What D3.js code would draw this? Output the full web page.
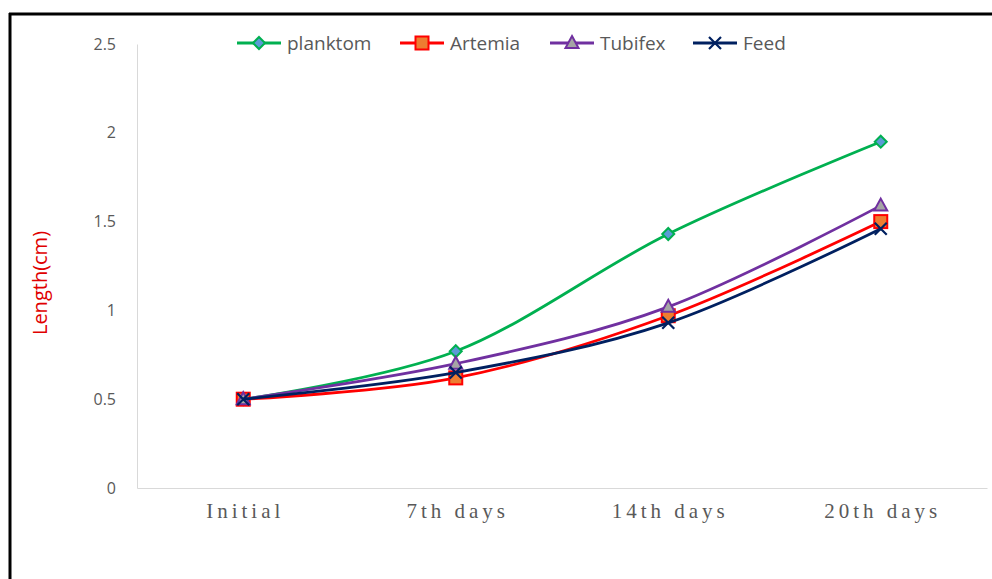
<!DOCTYPE html>
<html>
<head>
<meta charset="utf-8">
<script src="https://cdn.jsdelivr.net/npm/d3@7"></script>
<style>
  html, body { margin: 0; padding: 0; background: #fff; }
  svg { display: block; }
</style>
</head>
<body>
<svg id="chart" width="992" height="579"></svg>
<script>
// Fish larvae length by feeding treatment
const categories = ["Initial", "7th days", "14th days", "20th days"];
const seriesNames = ["planktom", "Artemia", "Tubifex", "Feed"];
const planktom = [0.5, 0.77, 1.43, 1.95];
const artemia  = [0.5, 0.62, 0.97, 1.50];
const tubifex  = [0.5, 0.70, 1.02, 1.59];
const feed     = [0.5, 0.65, 0.93, 1.46];
const yTicks = [0, 0.5, 1, 1.5, 2, 2.5];

const series = [
  { name: seriesNames[0], values: planktom, line: "#00B050", fill: "#5B9BD5", stroke: "#00B050", shape: "diamond" },
  { name: seriesNames[1], values: artemia,  line: "#FF0000", fill: "#ED7D31", stroke: "#FF0000", shape: "square" },
  { name: seriesNames[2], values: tubifex,  line: "#7030A0", fill: "#A5A5A5", stroke: "#7030A0", shape: "triangle" },
  { name: seriesNames[3], values: feed,     line: "#002060", fill: "none",    stroke: "#002060", shape: "x" }
];

const svg = d3.select("#chart");

// frame lines (top and left)
svg.append("line").attr("x1", 9).attr("x2", 992).attr("y1", 14).attr("y2", 14)
  .attr("stroke", "#000").attr("stroke-width", 3);
svg.append("line").attr("x1", 10).attr("x2", 10).attr("y1", 13).attr("y2", 579)
  .attr("stroke", "#000").attr("stroke-width", 3);

const plotLeft = 137, plotRight = 987, plotTop = 44, plotBottom = 488;

const x = d3.scaleBand().domain(categories).range([plotLeft, plotRight]);
const y = d3.scaleLinear().domain([0, 2.5]).range([plotBottom, plotTop]);

// axes
const yAxis = svg.append("g").attr("transform", `translate(${plotLeft},0)`)
  .call(d3.axisLeft(y).tickValues(yTicks).tickSize(0).tickPadding(21).tickFormat(d3.format("")));
yAxis.select(".domain").attr("stroke", "#D9D9D9");
yAxis.selectAll("text").attr("fill", "#595959")
  .style("font-family", "'Open Sans', 'Liberation Sans', sans-serif").style("font-size", "16px");

const xAxis = svg.append("g").attr("transform", `translate(0,${plotBottom})`)
  .call(d3.axisBottom(x).tickSize(0).tickPadding(15));
xAxis.select(".domain").attr("stroke", "#D9D9D9");
xAxis.selectAll("text").attr("fill", "#595959")
  .attr("dx", 2)
  .style("font-family", "'Liberation Serif', 'DejaVu Serif', serif")
  .style("font-size", "21px").style("letter-spacing", "4px");

// y axis title
svg.append("text")
  .attr("transform", `translate(47,${(plotTop + plotBottom) / 2 + 17}) rotate(-90)`)
  .attr("text-anchor", "middle")
  .attr("fill", "#E00000")
  .style("font-family", "'Open Sans', 'Liberation Sans', sans-serif")
  .style("font-size", "20px")
  .text("Length(cm)");

const line = d3.line()
  .x((d, i) => x(categories[i]) + x.bandwidth() / 2)
  .y(d => y(d))
  .curve(d3.curveCatmullRom.alpha(0));

function drawMarker(g, shape, cx, cy, s) {
  if (shape === "diamond") {
    g.append("path").attr("d", `M${cx},${cy - 6}L${cx + 6},${cy}L${cx},${cy + 6}L${cx - 6},${cy}Z`)
      .attr("fill", s.fill).attr("stroke", s.stroke).attr("stroke-width", 2);
  } else if (shape === "square") {
    g.append("rect").attr("x", cx - 6.5).attr("y", cy - 6.5).attr("width", 13).attr("height", 13)
      .attr("fill", s.fill).attr("stroke", s.stroke).attr("stroke-width", 2);
  } else if (shape === "triangle") {
    g.append("path").attr("d", `M${cx},${cy - 7}L${cx + 6.5},${cy + 5}L${cx - 6.5},${cy + 5}Z`)
      .attr("fill", s.fill).attr("stroke", s.stroke).attr("stroke-width", 2);
  } else {
    g.append("path").attr("d", `M${cx - 6},${cy - 6}L${cx + 6},${cy + 6}M${cx + 6},${cy - 6}L${cx - 6},${cy + 6}`)
      .attr("fill", "none").attr("stroke", s.stroke).attr("stroke-width", 2.2);
  }
}

// each series: line then its markers, later series on top
const plot = svg.append("g");
series.forEach(s => {
  const g = plot.append("g");
  g.append("path").datum(s.values).attr("d", line)
    .attr("fill", "none").attr("stroke", s.line).attr("stroke-width", 2.8)
    .attr("stroke-linecap", "round");
  s.values.forEach((v, i) => drawMarker(g, s.shape, x(categories[i]) + x.bandwidth() / 2, y(v), s));
});

// legend
const legendX = [237, 400, 550, 693];
const legend = svg.append("g");
series.forEach((s, i) => {
  const lx = legendX[i], ly = 43;
  legend.append("line").attr("x1", lx).attr("x2", lx + 44).attr("y1", ly).attr("y2", ly)
    .attr("stroke", s.line).attr("stroke-width", 2.8);
  drawMarker(legend, s.shape, lx + 22, ly, s);
  legend.append("text").attr("x", lx + 50).attr("y", ly + 6.5)
    .attr("fill", "#595959")
    .style("font-family", "'Open Sans', 'Liberation Sans', sans-serif")
    .style("font-size", "19px")
    .text(s.name);
});
</script>
</body>
</html>
